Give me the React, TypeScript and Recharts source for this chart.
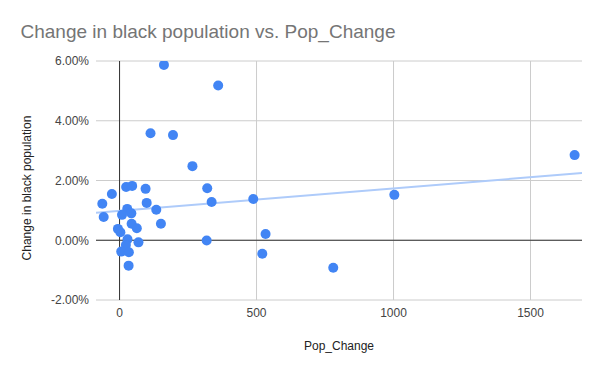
import React from 'react';
import { ScatterChart, Scatter, XAxis, YAxis, CartesianGrid, ReferenceLine } from 'recharts';

const popChange = [162, 360, 113, 195, 266, 24, 46, 95, 320, -28, -63, 99, 336, 488, -58, 28, 9, 43, 134, 44, 63, 151, -6, 3, 29, 23, 6, 34, 33, 69, 318, 533, 521, 780, 1003, 1661];
const blackChange = [5.87, 5.18, 3.58, 3.52, 2.48, 1.78, 1.82, 1.72, 1.74, 1.55, 1.22, 1.25, 1.28, 1.38, 0.78, 1.05, 0.85, 0.9, 1.02, 0.55, 0.4, 0.55, 0.38, 0.27, 0.03, -0.16, -0.38, -0.4, -0.85, -0.07, -0.01, 0.21, -0.45, -0.92, 1.52, 2.85];
const trendX = [-86, 1688];
const trendY = [0.92, 2.25];
const xTicks = [0, 500, 1000, 1500];
const yTicks = [-2, 0, 2, 4, 6];

const points = popChange.map((x, i) => ({ x, y: blackChange[i] }));
const trend = trendX.map((x, i) => ({ x, y: trendY[i] }));

const font = '"Liberation Sans", Arial, sans-serif';

export default function App() {
  return (
    <div style={{ position: 'absolute', left: 0, top: 0, width: 600, height: 371, background: '#fff', fontFamily: font }}>
      <ScatterChart width={600} height={371} margin={{ top: 61, right: 18, bottom: 41, left: 0 }}>
        <CartesianGrid stroke="#cccccc" strokeDasharray="" horizontalValues={yTicks} verticalValues={xTicks} />
        <XAxis
          type="number"
          dataKey="x"
          domain={[-86, 1688]}
          ticks={xTicks}
          allowDataOverflow
          height={30}
          axisLine={false}
          tickLine={false}
          tickSize={0}
          tickMargin={8}
          tick={{ fill: '#444', fontSize: 12, fontFamily: font }}
        />
        <YAxis
          type="number"
          dataKey="y"
          domain={[-2, 6]}
          ticks={yTicks}
          allowDataOverflow
          width={96}
          axisLine={false}
          tickLine={false}
          tickSize={0}
          tickMargin={7}
          tickFormatter={(v: number) => `${v.toFixed(2)}%`}
          tick={{ fill: '#444', fontSize: 12, fontFamily: font }}
        />
        <ReferenceLine x={0} stroke="#333" strokeWidth={1} />
        <ReferenceLine y={0} stroke="#333" strokeWidth={1} />
        <Scatter data={trend} line={{ stroke: '#aecbfa', strokeWidth: 2 }} shape={() => null} isAnimationActive={false} />
        <Scatter data={points} fill="#4285f4" isAnimationActive={false} shape={(p: any) => <circle cx={p.cx} cy={p.cy} r={5} fill="#4285f4" />} />
      </ScatterChart>
      <svg width={600} height={371} style={{ position: 'absolute', left: 0, top: 0, pointerEvents: 'none' }}>
        <text x={20.5} y={37.5} fill="#757575" fontSize={19} fontFamily={font}>Change in black population vs. Pop_Change</text>
        <text x={0} y={0} transform="translate(31,188) rotate(-90)" textAnchor="middle" fill="#222" fontSize={12} fontFamily={font}>Change in black population</text>
        <text x={339} y={350} textAnchor="middle" fill="#222" fontSize={12} fontFamily={font}>Pop_Change</text>
      </svg>
    </div>
  );
}
